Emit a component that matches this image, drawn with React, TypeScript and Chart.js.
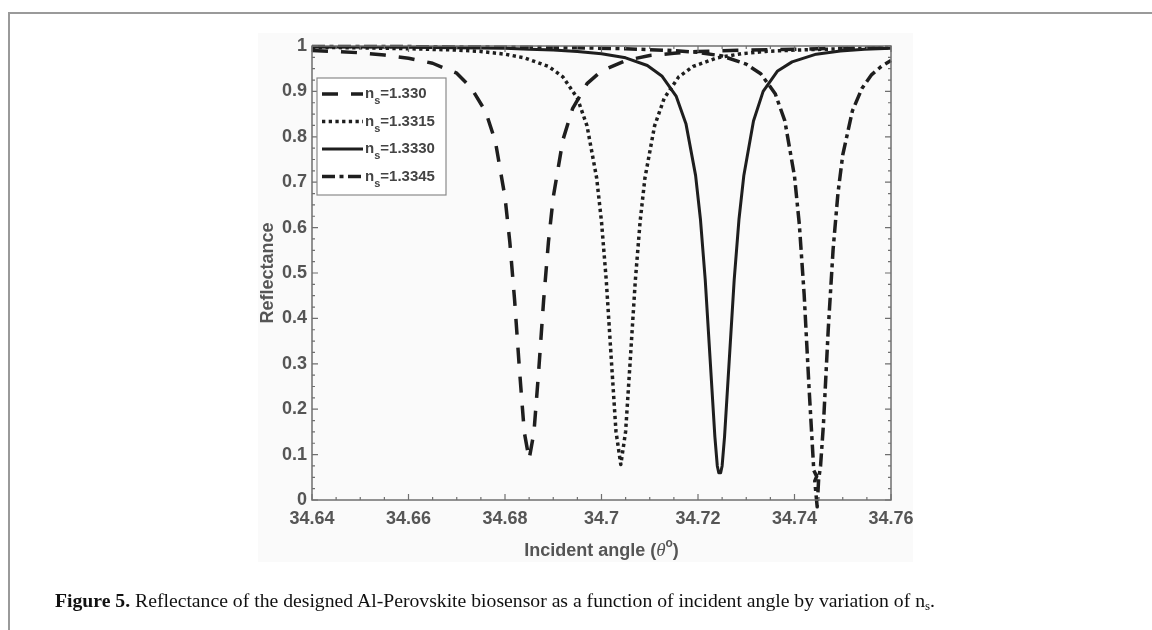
import React, { useEffect, useRef } from 'react';
import { Chart, registerables } from 'chart.js';

Chart.register(...registerables);

// ---- data ----
const xTicks = [34.64, 34.66, 34.68, 34.7, 34.72, 34.74, 34.76];
const xTickLabels = ['34.64', '34.66', '34.68', '34.7', '34.72', '34.74', '34.76'];
const yTicks = [0, 0.1, 0.2, 0.3, 0.4, 0.5, 0.6, 0.7, 0.8, 0.9, 1];
const yTickLabels = ['0', '0.1', '0.2', '0.3', '0.4', '0.5', '0.6', '0.7', '0.8', '0.9', '1'];
const nsValues = ['1.330', '1.3315', '1.3330', '1.3345'];

const angle1330 = [34.640, 34.645, 34.650, 34.655, 34.660, 34.665, 34.670, 34.673, 34.676, 34.678, 34.680, 34.681, 34.682, 34.683, 34.684, 34.685, 34.686, 34.687, 34.688, 34.689, 34.690, 34.692, 34.694, 34.697, 34.700, 34.705, 34.710, 34.715, 34.720, 34.730, 34.740, 34.750, 34.760];
const refl1330 = [0.990, 0.988, 0.985, 0.980, 0.973, 0.962, 0.940, 0.908, 0.855, 0.790, 0.667, 0.568, 0.439, 0.287, 0.149, 0.090, 0.149, 0.287, 0.439, 0.568, 0.667, 0.793, 0.862, 0.917, 0.945, 0.968, 0.979, 0.984, 0.988, 0.991, 0.993, 0.995, 0.996];

const angle13315 = [34.640, 34.650, 34.660, 34.670, 34.675, 34.680, 34.684, 34.689, 34.692, 34.695, 34.697, 34.699, 34.700, 34.701, 34.702, 34.703, 34.704, 34.705, 34.706, 34.707, 34.708, 34.709, 34.711, 34.713, 34.716, 34.719, 34.724, 34.729, 34.734, 34.740, 34.750, 34.760];
const refl13315 = [0.997, 0.996, 0.994, 0.991, 0.988, 0.982, 0.974, 0.955, 0.932, 0.885, 0.824, 0.709, 0.613, 0.482, 0.315, 0.151, 0.078, 0.151, 0.315, 0.482, 0.613, 0.709, 0.824, 0.885, 0.932, 0.955, 0.974, 0.983, 0.988, 0.991, 0.994, 0.996];

const angle13330 = [34.640, 34.650, 34.660, 34.670, 34.680, 34.685, 34.690, 34.695, 34.700, 34.705, 34.7095, 34.7125, 34.7155, 34.7175, 34.7195, 34.7205, 34.7215, 34.7225, 34.7235, 34.7240, 34.7243, 34.7247, 34.7250, 34.7255, 34.7265, 34.7275, 34.7285, 34.7295, 34.7315, 34.7335, 34.7365, 34.7395, 34.7445, 34.7495, 34.7545, 34.7600];
const refl13330 = [0.998, 0.998, 0.997, 0.996, 0.995, 0.993, 0.991, 0.988, 0.983, 0.974, 0.957, 0.934, 0.889, 0.829, 0.715, 0.619, 0.485, 0.312, 0.139, 0.075, 0.060, 0.060, 0.075, 0.139, 0.312, 0.485, 0.619, 0.715, 0.835, 0.900, 0.945, 0.965, 0.982, 0.989, 0.993, 0.995];

const angle13345 = [34.640, 34.655, 34.670, 34.685, 34.695, 34.705, 34.715, 34.720, 34.725, 34.730, 34.733, 34.736, 34.738, 34.740, 34.741, 34.742, 34.743, 34.7440, 34.7446, 34.7442, 34.7447, 34.7450, 34.7454, 34.7460, 34.7470, 34.7480, 34.7490, 34.7500, 34.7520, 34.7540, 34.7560, 34.7580, 34.7600];
const refl13345 = [0.999, 0.999, 0.998, 0.997, 0.996, 0.994, 0.990, 0.986, 0.978, 0.960, 0.939, 0.895, 0.835, 0.713, 0.607, 0.453, 0.250, 0.065, 0.052, 0.042, -0.015, 0.045, 0.075, 0.167, 0.377, 0.552, 0.675, 0.760, 0.857, 0.907, 0.937, 0.955, 0.968];

const X_MINOR_STEP = 0.005;
const Y_MINOR_STEP = 0.025;

const AXIS_COLOR = '#6f6f6f';
const TEXT_COLOR = '#555555';
const LINE_COLOR = '#1e1e1e';
const SANS = '"Liberation Sans", Arial, sans-serif';

const toPoints = (xs: number[], ys: number[]) => xs.map((x, i) => ({ x, y: ys[i] }));

const decorPlugin = {
  id: 'decor',
  afterDatasetsDraw(chart: any) {
    const { ctx, chartArea: a, scales } = chart;
    const xs = scales.x;
    const ys = scales.y;
    ctx.save();
    // box
    ctx.strokeStyle = AXIS_COLOR;
    ctx.lineWidth = 1.5;
    ctx.setLineDash([]);
    ctx.strokeRect(a.left, a.top, a.right - a.left, a.bottom - a.top);
    // inward ticks
    ctx.lineWidth = 1.2;
    const nx = Math.round((xs.max - xs.min) / X_MINOR_STEP);
    for (let i = 0; i <= nx; i++) {
      const px = xs.getPixelForValue(xs.min + i * X_MINOR_STEP);
      const len = i % 4 === 0 ? 6 : 3;
      ctx.beginPath();
      ctx.moveTo(px, a.bottom); ctx.lineTo(px, a.bottom - len);
      ctx.moveTo(px, a.top); ctx.lineTo(px, a.top + len);
      ctx.stroke();
    }
    const ny = Math.round((ys.max - ys.min) / Y_MINOR_STEP);
    for (let i = 0; i <= ny; i++) {
      const py = ys.getPixelForValue(ys.min + i * Y_MINOR_STEP);
      const len = i % 4 === 0 ? 6 : 3;
      ctx.beginPath();
      ctx.moveTo(a.left, py); ctx.lineTo(a.left + len, py);
      ctx.moveTo(a.right, py); ctx.lineTo(a.right - len, py);
      ctx.stroke();
    }

    // axis titles
    ctx.fillStyle = TEXT_COLOR;
    ctx.textBaseline = 'middle';
    ctx.save();
    ctx.translate(a.left - 44, (a.top + a.bottom) / 2);
    ctx.rotate(-Math.PI / 2);
    ctx.textAlign = 'center';
    ctx.font = `bold 18px ${SANS}`;
    ctx.fillText('Reflectance', 0, 0);
    ctx.restore();
    const parts = [
      { t: 'Incident angle (', f: `bold 18px ${SANS}`, dy: 0 },
      { t: 'θ', f: `italic 19px "Liberation Serif", serif`, dy: 0 },
      { t: 'o', f: `bold 12px ${SANS}`, dy: -7 },
      { t: ')', f: `bold 18px ${SANS}`, dy: 0 },
    ];
    let total = 0;
    const widths = parts.map((p) => { ctx.font = p.f; const w = ctx.measureText(p.t).width; total += w; return w; });
    let cx = (a.left + a.right) / 2 - total / 2;
    const ty = a.bottom + 51;
    ctx.textAlign = 'left';
    parts.forEach((p, i) => { ctx.font = p.f; ctx.fillText(p.t, cx, ty + p.dy); cx += widths[i]; });

    // legend
    const lx = a.left + 5;
    const ly = a.top + 32;
    const lw = 129;
    const lh = 117;
    ctx.fillStyle = '#ffffff';
    ctx.fillRect(lx, ly, lw, lh);
    ctx.strokeStyle = '#8a8a8a';
    ctx.lineWidth = 1.2;
    ctx.strokeRect(lx, ly, lw, lh);
    chart.data.datasets.forEach((ds: any, i: number) => {
      const ry = ly + 16 + i * 27.5;
      ctx.save();
      ctx.strokeStyle = ds.borderColor;
      ctx.lineWidth = ds.borderWidth;
      ctx.lineCap = 'butt';
      ctx.setLineDash(ds.borderDash || []);
      ctx.beginPath();
      ctx.moveTo(lx + 5, ry);
      ctx.lineTo(lx + 46, ry);
      ctx.stroke();
      ctx.restore();
      ctx.fillStyle = '#444444';
      ctx.textAlign = 'left';
      ctx.textBaseline = 'middle';
      let tx = lx + 48;
      ctx.font = `bold 15px ${SANS}`;
      ctx.fillText('n', tx, ry);
      tx += ctx.measureText('n').width;
      ctx.font = `bold 11px ${SANS}`;
      ctx.fillText('s', tx, ry + 7);
      tx += ctx.measureText('s').width;
      ctx.font = `bold 15px ${SANS}`;
      ctx.fillText('=' + nsValues[i], tx, ry);
    });
    ctx.restore();
  },
};

export default function App() {
  const canvasRef = useRef<HTMLCanvasElement | null>(null);

  useEffect(() => {
    const canvas = canvasRef.current;
    if (!canvas) return;
    const common = { pointRadius: 0, tension: 0, fill: false, borderColor: LINE_COLOR, borderCapStyle: 'butt', borderJoinStyle: 'round' };
    const chart = new Chart(canvas, {
      type: 'line',
      data: {
        datasets: [
          { ...common, label: 'ns=' + nsValues[0], data: toPoints(angle1330, refl1330), borderWidth: 3.5, borderDash: [16, 13] },
          { ...common, label: 'ns=' + nsValues[1], data: toPoints(angle13315, refl13315), borderWidth: 3.5, borderDash: [3.3, 3.4] },
          { ...common, label: 'ns=' + nsValues[2], data: toPoints(angle13330, refl13330), borderWidth: 3 },
          { ...common, label: 'ns=' + nsValues[3], data: toPoints(angle13345, refl13345), borderWidth: 3.5, borderDash: [13, 4.5, 4, 4.5], clip: false },
        ] as any,
      },
      options: {
        animation: false,
        responsive: false,
        maintainAspectRatio: false,
        devicePixelRatio: 1,
        layout: { padding: { left: 212, right: 261, top: 46, bottom: 50 } },
        plugins: { legend: { display: false }, tooltip: { enabled: false }, title: { display: false } },
        scales: {
          x: {
            type: 'linear',
            min: 34.64,
            max: 34.76,
            afterBuildTicks: (axis: any) => { axis.ticks = xTicks.map((v) => ({ value: v })); },
            afterFit: (axis: any) => { axis.height = 80; },
            grid: { display: false, drawTicks: false },
            border: { display: false },
            ticks: {
              autoSkip: false,
              maxRotation: 0,
              padding: 8,
              color: TEXT_COLOR,
              font: { family: SANS, size: 18, weight: 'bold' },
              callback: (_v: any, i: number) => xTickLabels[i],
            },
          },
          y: {
            type: 'linear',
            min: 0,
            max: 1,
            afterBuildTicks: (axis: any) => { axis.ticks = yTicks.map((v) => ({ value: v })); },
            afterFit: (axis: any) => { axis.width = 100; },
            grid: { display: false, drawTicks: false },
            border: { display: false },
            ticks: {
              autoSkip: false,
              padding: 5,
              color: TEXT_COLOR,
              font: { family: SANS, size: 18, weight: 'bold' },
              callback: (_v: any, i: number) => yTickLabels[i],
            },
          },
        },
      } as any,
      plugins: [decorPlugin],
    });
    return () => chart.destroy();
  }, []);

  return (
    <div style={{ position: 'fixed', left: 0, top: 0, width: 1152, height: 630, background: '#ffffff', overflow: 'hidden' }}>
      <div style={{ position: 'absolute', left: 8, top: 12, right: -4, bottom: -4, borderTop: '2px solid #9a9a9a', borderLeft: '2px solid #9a9a9a' }} />
      <div style={{ position: 'absolute', left: 258, top: 33, width: 655, height: 529, background: '#fafafa' }} />
      <canvas ref={canvasRef} width={1152} height={630} style={{ position: 'absolute', left: 0, top: 0, width: 1152, height: 630 }} />
      <div style={{ position: 'absolute', left: 55, top: 590, font: '19.7px "Liberation Serif", serif', lineHeight: '20px', color: '#111', whiteSpace: 'nowrap' }}>
        <b>Figure 5.</b> Reflectance of the designed Al-Perovskite biosensor as a function of incident angle by variation of n
        <sub style={{ fontSize: '13px', lineHeight: 0, verticalAlign: '-3px' }}>s</sub>.
      </div>
    </div>
  );
}
